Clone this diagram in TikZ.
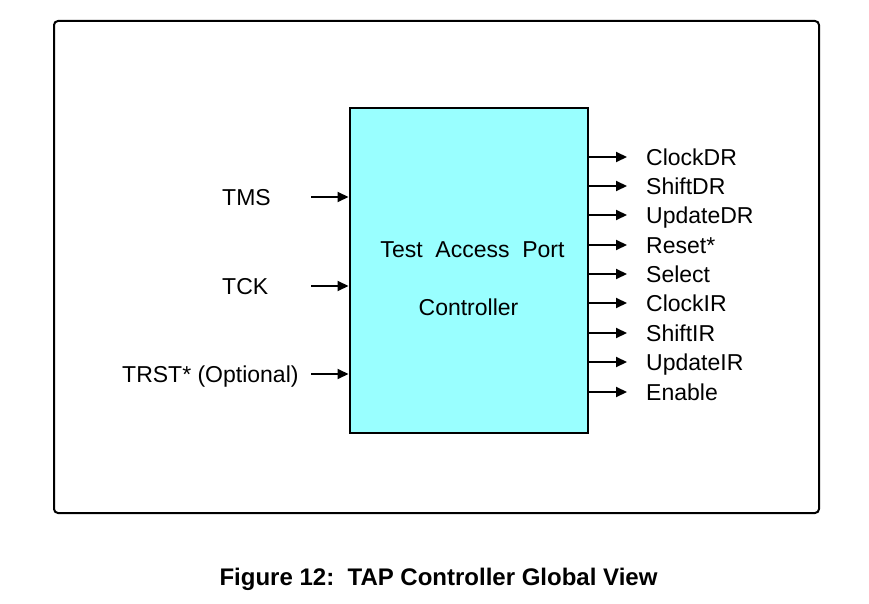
\documentclass[tikz,border=0pt]{standalone}
\usepackage{fontspec}
\setmainfont{Liberation Sans}
\usetikzlibrary{arrows.meta}
\definecolor{tapcyan}{HTML}{99FFFF}
\begin{document}
\begin{tikzpicture}[x=1pt,y=-1pt,
  sig/.style={line width=2pt,-{Triangle[length=11pt,width=10pt]}},
  lbl/.style={inner sep=0pt,anchor=base west,font=\fontsize{23}{27}\selectfont}]
\useasboundingbox (0,0) rectangle (869,604);
% outer frame
\draw [line width=2pt,rounded corners=4pt] (54,21) rectangle (819,513);
% controller block
\node (tap) [draw,line width=2pt,fill=tapcyan,minimum width=238pt,minimum height=325pt,inner sep=0pt] at (468.5,270.5) {};
\node (tap1) [lbl,anchor=base] at (472.5,257) {Test\ \ Access\ \ Port};
\node (tap2) [lbl,anchor=base] at (468.5,315) {Controller};
% inputs
\node (tms) [lbl] at (222,205) {TMS};
\node (tck) [lbl] at (222,294) {TCK};
\node (trst) [lbl] at (122,382) {TRST* (Optional)};
\coordinate (i1) at (311,197);
\coordinate (i2) at (311,286);
\coordinate (i3) at (311,374);
\foreach \i in {1,2,3}
  \draw [sig] (i\i) -- (i\i -| tap.west);
% outputs
\foreach \sig/\y [count=\i] in {ClockDR/157,ShiftDR/186,UpdateDR/215,Reset*/245,Select/274,ClockIR/303,ShiftIR/333,UpdateIR/362,Enable/392} {
  \coordinate (o\i) at (627,\y);
  \draw [sig] (tap.east |- o\i) -- (o\i);
  \node (out\i) [lbl] at (646,\y+8.2) {\sig};
}
% caption
\node (cap) [lbl,anchor=base,font=\fontsize{24}{28}\selectfont\bfseries] at (438.5,585) {Figure 12:\ \ TAP Controller Global View};
\end{tikzpicture}
\end{document}
